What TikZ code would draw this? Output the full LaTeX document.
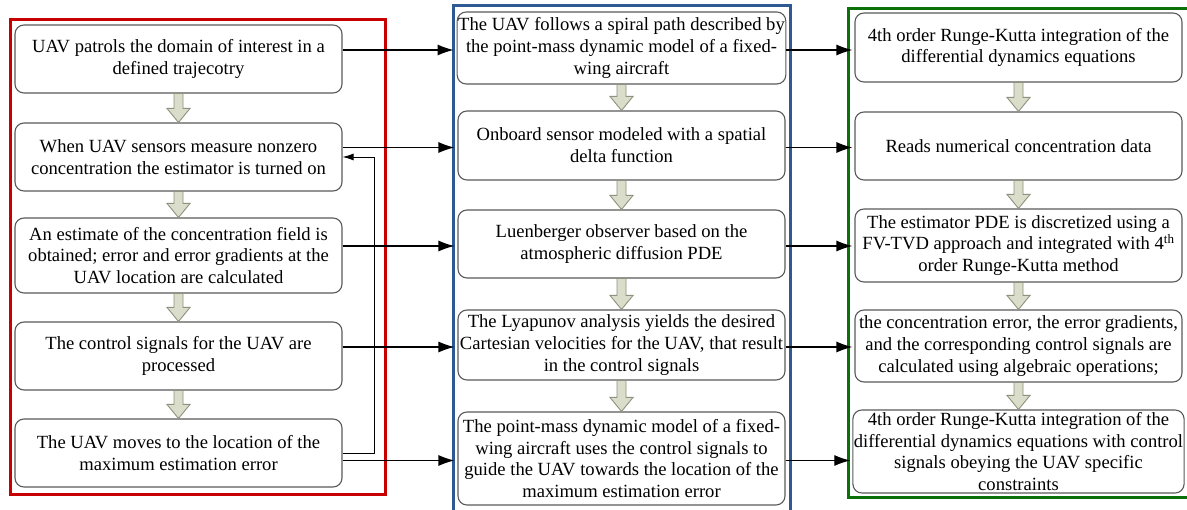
\documentclass[tikz,border=0pt]{standalone}
\usepackage{fontspec}
\setmainfont{Liberation Serif}
\usetikzlibrary{calc,arrows.meta}
\definecolor{frRed}{HTML}{C80000}
\definecolor{frBlue}{HTML}{2E5A94}
\definecolor{frGreen}{HTML}{0A700A}
\definecolor{boxLine}{HTML}{5A5A5A}
\definecolor{baFill}{HTML}{DADDC9}
\definecolor{baLine}{HTML}{8E927E}
\tikzset{
  stepbox/.style={draw=boxLine, line width=1.1pt, rounded corners=9pt, fill=white,
    minimum width=327pt, align=center, inner sep=1pt,
    font=\fontsize{18.6}{21.8}\selectfont},
  frame/.style={line width=3pt},
  link/.style={-{Latex[length=16pt,width=11pt]}, line width=1.2pt, black},
  fback/.style={-{Latex[length=11pt,width=7pt]}, line width=0.9pt, black},
  blk/.style={fill=baFill, draw=baLine, line width=0.9pt},
}
\newcommand{\blockarrow}[2]{%
  \filldraw[blk] let \p1=(#1.south), \p2=(#2.north) in
    ({\x1-4.5pt},{\y1}) -- ({\x1+4.5pt},{\y1}) -- ({\x1+4.5pt},{\y2+14pt})
    -- ({\x1+11.5pt},{\y2+14pt}) -- ({\x1},{\y2}) -- ({\x1-11.5pt},{\y2+14pt})
    -- ({\x1-4.5pt},{\y2+14pt}) -- cycle;}
\begin{document}
\begin{tikzpicture}[x=1pt,y=-1pt]
\useasboundingbox (0,0) rectangle (1187,510);
\clip (0,0) rectangle (1187,510);
\fill[white] (0,0) rectangle (1187,510);
% frames
\draw[frame, frRed] (10,20) rectangle (385,495);
\draw[frame, frBlue] (453,6) rectangle (790,530);
\draw[frame, frGreen] (848,9) rectangle (1200,498);
% left column
\node[stepbox, minimum height=68pt] (L1) at (178.5,59) {UAV patrols the domain of interest in a\\defined trajecotry};
\node[stepbox, minimum height=68pt] (L2) at (178.5,157) {When UAV sensors measure nonzero\\concentration the estimator is turned on};
\node[stepbox, minimum height=75pt] (L3) at (178.5,255.5) {An estimate of the concentration field is\\obtained; error and error gradients at the\\UAV location are calculated};
\node[stepbox, minimum height=68pt] (L4) at (178.5,356) {The control signals for the UAV are\\processed};
\node[stepbox, minimum height=68pt] (L5) at (178.5,453) {The UAV moves to the location of the\\maximum estimation error};
% middle column
\node[stepbox, minimum height=72pt] (M1) at (621.5,48) {The UAV follows a spiral path described by\\the point-mass dynamic model of a fixed-\\wing aircraft};
\node[stepbox, minimum height=69pt] (M2) at (621.5,145.5) {Onboard sensor modeled with a spatial\\delta function};
\node[stepbox, minimum height=68pt] (M3) at (621.5,244) {Luenberger observer based on the\\atmospheric diffusion PDE};
\node[stepbox, minimum height=70pt] (M4) at (621.5,345) {The Lyapunov analysis yields the desired\\Cartesian velocities for the UAV, that result\\in the control signals};
\node[stepbox, minimum height=93pt] (M5) at (621.5,458.5) {The point-mass dynamic model of a fixed-\\wing aircraft uses the control signals to\\guide the UAV towards the location of the\\maximum estimation error};
% right column
\node[stepbox, minimum height=69pt] (G1) at (1018.5,47.5) {4th order Runge-Kutta integration of the\\differential dynamics equations};
\node[stepbox, minimum height=68pt] (G2) at (1018.5,146) {Reads numerical concentration data};
\node[stepbox, minimum height=73pt] (G3) at (1018.5,245.5) {The estimator PDE is discretized using a\\FV-TVD approach and integrated with 4\textsuperscript{th}\\order Runge-Kutta method};
\node[stepbox, minimum height=72pt] (G4) at (1018.5,346) {the concentration error, the error gradients,\\and the corresponding control signals are\\calculated using algebraic operations;};
\node[stepbox, minimum height=83pt] (G5) at (1018.5,451.5) {4th order Runge-Kutta integration of the\\differential dynamics equations with control\\signals obeying the UAV specific\\constraints};
% block arrows
\blockarrow{L1}{L2}\blockarrow{L2}{L3}\blockarrow{L3}{L4}\blockarrow{L4}{L5}
\blockarrow{M1}{M2}\blockarrow{M2}{M3}\blockarrow{M3}{M4}\blockarrow{M4}{M5}
\blockarrow{G1}{G2}\blockarrow{G2}{G3}\blockarrow{G3}{G4}\blockarrow{G4}{G5}
% links left -> middle
\foreach \a/\b in {L1/M1,L2/M2,L3/M3,L4/M4,L5/M5}
  \draw[link, shorten >=3pt] ([yshift=-2pt]\a.east |- \b.west) -- ([yshift=-2pt]\b.west);
% links middle -> right
\foreach \a/\b in {M1/G1,M2/G2,M3/G3,M4/G4,M5/G5}
  \draw[link, shorten >=2pt] ([yshift=-2pt]\a.east) -- ([yshift=-2pt]\b.west |- \a.east);
% feedback
\coordinate (fb) at (374,453);
\draw[fback] (L5.east) -- (fb) |- (L2.east);
\end{tikzpicture}
\end{document}
